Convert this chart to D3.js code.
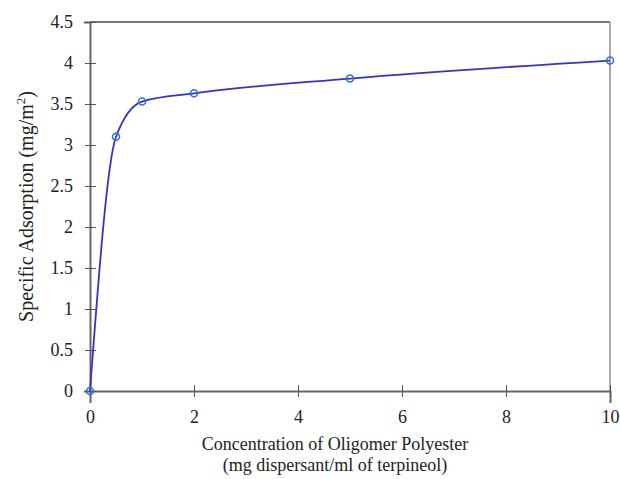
<!DOCTYPE html>
<html>
<head>
<meta charset="utf-8">
<script src="https://cdn.jsdelivr.net/npm/d3@7"></script>
<style>
  body { margin: 0; background: #fff; }
  text { font-family: "Liberation Serif", "Times New Roman", serif; fill: #222; }
  .tick text { font-size: 18px; font-family: "Liberation Serif", serif; fill: #222; }
</style>
</head>
<body>
<div id="chart"></div>
<script>
// concentration (mg dispersant / ml terpineol)
var conc = [0, 0.5, 1, 2, 5, 10];
// specific adsorption (mg/m2)
var adsorption = [0, 3.1, 3.53, 3.63, 3.81, 4.03];
var xTicks = [0, 2, 4, 6, 8, 10];
var yTicks = [0, 0.5, 1, 1.5, 2, 2.5, 3, 3.5, 4, 4.5];

var svgWidth = 620, svgHeight = 479;
var margin = { top: 22, right: 10, bottom: 88, left: 90 };
var width = svgWidth - margin.left - margin.right;
var height = svgHeight - margin.top - margin.bottom;

var data = conc.map(function(c, i) { return { x: c, y: adsorption[i] }; });

var svg = d3.select('#chart').append("svg")
  .attr("width", svgWidth)
  .attr("height", svgHeight);
var g = svg.append("g")
  .attr("transform", "translate(" + margin.left + "," + margin.top + ")");

var x = d3.scaleLinear().domain([0, 10]).range([0, width]);
var y = d3.scaleLinear().domain([0, 4.5]).range([height, 0]);

// frame (top and right)
g.append("line").attr("x1", 0).attr("x2", width).attr("y1", 0).attr("y2", 0)
  .attr("stroke", "#777").attr("stroke-width", 2);
g.append("line").attr("x1", width).attr("x2", width).attr("y1", 0).attr("y2", height)
  .attr("stroke", "#aaa").attr("stroke-width", 2);

var xAxis = g.append("g")
  .attr("transform", "translate(0," + height + ")")
  .call(d3.axisBottom(x).tickValues(xTicks).tickFormat(d3.format("~g")).tickSize(12).tickPadding(4));
xAxis.selectAll(".tick line").attr("y1", -6).attr("y2", 6).attr("stroke", "#555");
xAxis.select(".domain").attr("stroke", "#666").attr("stroke-width", 2);
xAxis.selectAll(".tick text").attr("y", 19);

var yAxis = g.append("g")
  .call(d3.axisLeft(y).tickValues(yTicks).tickFormat(d3.format("~g")).tickSize(6).tickPadding(11));
yAxis.selectAll(".tick line").attr("x1", -5).attr("x2", 6).attr("stroke", "#555");
yAxis.select(".domain").attr("stroke", "#666").attr("stroke-width", 2);

var line = d3.line()
  .x(function(d) { return x(d.x); })
  .y(function(d) { return y(d.y); })
  .curve(d3.curveMonotoneX);

g.append("path")
  .datum(data)
  .attr("fill", "none")
  .attr("stroke", "#3333cc")
  .attr("stroke-width", 1.8)
  .attr("d", line);

g.selectAll("circle")
  .data(data)
  .enter().append("circle")
  .attr("cx", function(d) { return x(d.x); })
  .attr("cy", function(d) { return y(d.y); })
  .attr("r", 3.5)
  .attr("fill", "none")
  .attr("stroke", "#2f6fd8")
  .attr("stroke-width", 1.5);

// axis titles
svg.append("text")
  .attr("x", 335).attr("y", 450)
  .attr("text-anchor", "middle")
  .attr("font-size", 18)
  .text("Concentration of Oligomer Polyester");
svg.append("text")
  .attr("x", 335).attr("y", 471)
  .attr("text-anchor", "middle")
  .attr("font-size", 18)
  .text("(mg dispersant/ml of terpineol)");

var yl = svg.append("text")
  .attr("transform", "translate(33," + (margin.top + height / 2) + ") rotate(-90)")
  .attr("text-anchor", "middle")
  .attr("font-size", 20);
yl.append("tspan").text("Specific Adsorption (mg/m");
yl.append("tspan").attr("font-size", 13).attr("dy", -8).text("2");
yl.append("tspan").attr("dy", 8).text(")");
</script>
</body>
</html>
